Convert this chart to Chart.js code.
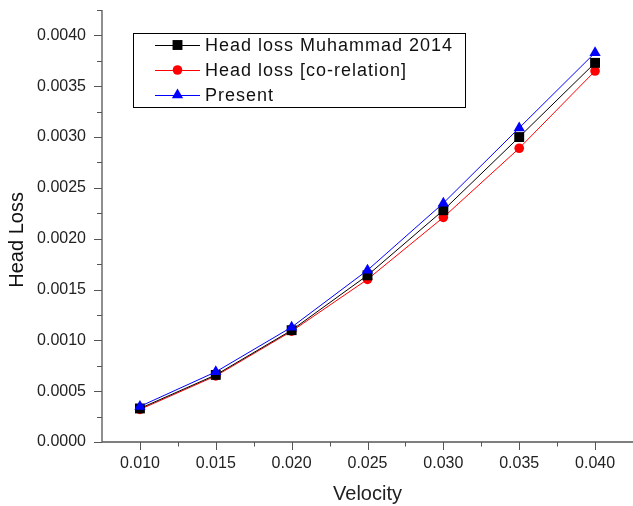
<!DOCTYPE html>
<html>
<head>
<meta charset="utf-8">
<script src="https://cdn.jsdelivr.net/npm/chart.js@4/dist/chart.umd.min.js"></script>
<style>
  html, body { margin: 0; padding: 0; background: #fff; }
  #wrap { width: 633px; height: 506px; position: relative; }
</style>
</head>
<body>
<div id="wrap"><canvas id="c" width="633" height="506"></canvas></div>
<script>
// ---- data ----
const velocity = [0.010, 0.015, 0.020, 0.025, 0.030, 0.035, 0.040];
const headLossMuhammad = [0.00033, 0.00066, 0.00110, 0.00164, 0.00228, 0.00300, 0.00373];
const headLossCorrelation = [0.00032, 0.00065, 0.00109, 0.00160, 0.00221, 0.00289, 0.00365];
const headLossPresent = [0.00035, 0.00069, 0.00113, 0.00169, 0.00235, 0.00309, 0.00383];
const seriesNames = ['Head loss Muhammad 2014', 'Head loss [co-relation]', 'Present'];
const xTicks = [0.010, 0.015, 0.020, 0.025, 0.030, 0.035, 0.040];
const xMinorTicks = [0.0125, 0.0175, 0.0225, 0.0275, 0.0325, 0.0375, 0.0425];
const yTicks = [0.0000, 0.0005, 0.0010, 0.0015, 0.0020, 0.0025, 0.0030, 0.0035, 0.0040];
const yMinorTicks = [0.00025, 0.00075, 0.00125, 0.00175, 0.00225, 0.00275, 0.00325, 0.00375, 0.00425];

const FONT = '"Liberation Sans", Arial, sans-serif';
const toXY = (ys) => velocity.map((v, i) => ({ x: v, y: ys[i] }));

const datasets = [
  { label: seriesNames[0], data: toXY(headLossMuhammad), borderColor: '#000000', backgroundColor: '#000000',
    pointStyle: 'rect', pointRadius: 7, borderWidth: 1, order: 1 },
  { label: seriesNames[1], data: toXY(headLossCorrelation), borderColor: '#ff0000', backgroundColor: '#ff0000',
    pointStyle: 'circle', pointRadius: 4.8, borderWidth: 1, order: 2 },
  { label: seriesNames[2], data: toXY(headLossPresent), borderColor: '#0000ff', backgroundColor: '#0000ff',
    pointStyle: 'triangle', pointRadius: 6.5, borderWidth: 1, order: 0 },
];
datasets.forEach(d => { d.pointBorderWidth = 0; d.tension = 0; d.fill = false; d.pointHoverRadius = d.pointRadius; });

const axisColor = '#555555';

const originAxes = {
  id: 'originAxes',
  afterDatasetsDraw(chart) {
    const ctx = chart.ctx, xs = chart.scales.x, ys = chart.scales.y, a = chart.chartArea;
    ctx.save();
    ctx.strokeStyle = axisColor;
    ctx.lineWidth = 1.3;
    ctx.beginPath();
    ctx.moveTo(a.left, a.top); ctx.lineTo(a.left, a.bottom); ctx.lineTo(a.right, a.bottom);
    ctx.stroke();
    ctx.lineWidth = 1;
    ctx.beginPath();
    xTicks.forEach(v => { const p = Math.round(xs.getPixelForValue(v)) + 0.5; ctx.moveTo(p, a.bottom); ctx.lineTo(p, a.bottom + 8); });
    xMinorTicks.forEach(v => { const p = Math.round(xs.getPixelForValue(v)) + 0.5; ctx.moveTo(p, a.bottom); ctx.lineTo(p, a.bottom + 4.5); });
    yTicks.forEach(v => { const p = Math.round(ys.getPixelForValue(v)) + 0.5; ctx.moveTo(a.left, p); ctx.lineTo(a.left - 8, p); });
    yMinorTicks.forEach(v => { const p = Math.round(ys.getPixelForValue(v)) + 0.5; ctx.moveTo(a.left, p); ctx.lineTo(a.left - 5, p); });
    ctx.stroke();
    ctx.restore();
  }
};

const boxLegend = {
  id: 'boxLegend',
  afterDraw(chart) {
    const ctx = chart.ctx;
    ctx.save();
    ctx.strokeStyle = '#000';
    ctx.lineWidth = 1;
    ctx.strokeRect(133.5, 33.5, 332, 74);
    const rows = [45, 70, 95];
    chart.data.datasets.forEach((d, i) => {
      const y = rows[i];
      ctx.strokeStyle = d.borderColor;
      ctx.lineWidth = 1;
      ctx.beginPath(); ctx.moveTo(155, y + 0.5); ctx.lineTo(200, y + 0.5); ctx.stroke();
      ctx.fillStyle = d.backgroundColor;
      Chart.helpers.drawPoint(ctx, { pointStyle: d.pointStyle, radius: d.pointRadius, rotation: 0, borderWidth: 0 }, 177.5, y);
      ctx.fillStyle = '#111';
      ctx.font = '18px ' + FONT;
      ctx.textBaseline = 'middle';
      ctx.textAlign = 'left';
      ctx.letterSpacing = '1px';
      ctx.fillText(d.label, 205, y + 1);
    });
    ctx.restore();
  }
};

new Chart(document.getElementById('c'), {
  type: 'line',
  data: { datasets },
  options: {
    responsive: false,
    animation: false,
    events: [],
    layout: { autoPadding: false, padding: { top: 10, right: 0, left: 0, bottom: 0 } },
    plugins: { legend: { display: false }, tooltip: { enabled: false } },
    scales: {
      x: {
        type: 'linear', min: 0.0075, max: 0.0425,
        afterBuildTicks: s => { s.ticks = xTicks.map(v => ({ value: v })); },
        afterFit: s => { s.height = 64; s.paddingRight = 0; s.paddingLeft = 0; },
        grid: { display: false, drawTicks: false },
        border: { display: false },
        ticks: { color: '#222', font: { family: FONT, size: 16 }, padding: 12, maxRotation: 0,
                 callback: v => Number(v).toFixed(3) },
        title: { display: true, text: 'Velocity', color: '#222', font: { family: FONT, size: 20 }, padding: { top: 7, bottom: 0 } }
      },
      y: {
        type: 'linear', min: 0, max: 0.00425,
        afterBuildTicks: s => { s.ticks = yTicks.map(v => ({ value: v })); },
        afterFit: s => { s.width = 102; s.paddingTop = 0; s.paddingBottom = 0; },
        grid: { display: false, drawTicks: false },
        border: { display: false },
        ticks: { color: '#222', font: { family: FONT, size: 16 }, padding: 16,
                 callback: v => Number(v).toFixed(4) },
        title: { display: true, text: 'Head Loss\u00A0\u00A0\u00A0\u00A0\u00A0', color: '#111', font: { family: FONT, size: 20 }, padding: { top: 5, bottom: 0 } }
      }
    }
  },
  plugins: [originAxes, boxLegend]
});
</script>
</body>
</html>
